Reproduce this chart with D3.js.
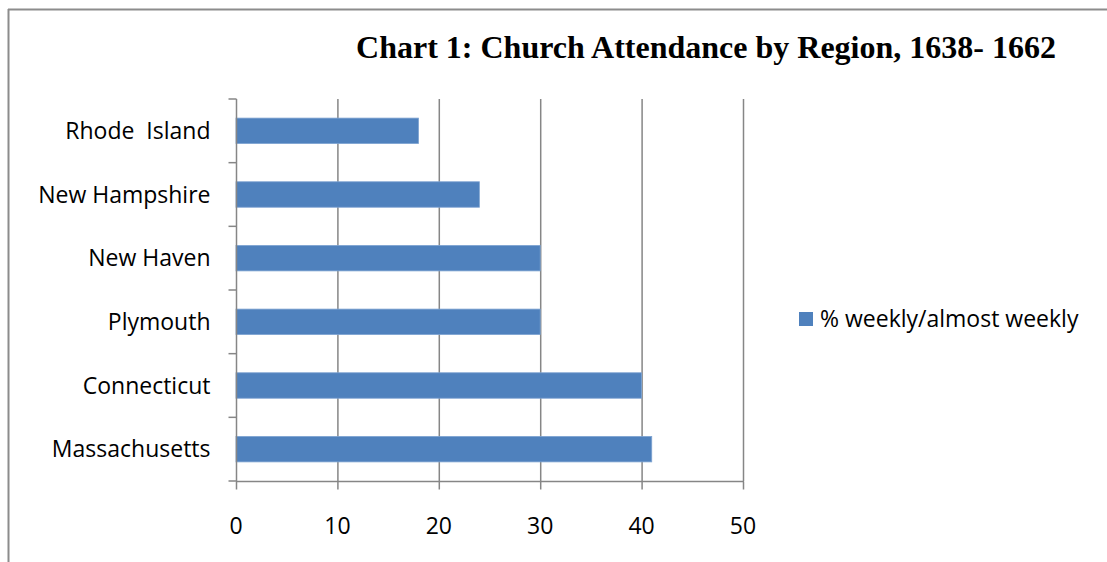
<!DOCTYPE html>
<html>
<head>
<meta charset="utf-8">
<script src="https://cdn.jsdelivr.net/npm/d3@7"></script>
<style>
  body { margin: 0; background: #fff; }
  svg { display: block; }
  .lbl { font-family: "Open Sans", sans-serif; font-size: 23px; fill: #000; white-space: pre; }
</style>
</head>
<body>
<svg id="chart" width="1107" height="562"></svg>
<script>
var width = 1107,
    height = 562;

// data
var regions = ['Massachusetts', 'Connecticut', 'Plymouth', 'New Haven', 'New Hampshire', 'Rhode  Island'];
var values = [41, 40, 30, 30, 24, 18];
var xTicks = [0, 10, 20, 30, 40, 50];
var seriesName = '% weekly/almost weekly';
var title = 'Chart 1: Church Attendance by Region, 1638- 1662';

var rows = regions.map(function(r, i) { return {region: r, value: values[i]}; });

var svg = d3.select('#chart');
var gridColor = '#868686';

// frame around the chart (top and left edges visible)
svg.append('line').attr('x1', 8).attr('y1', 9.5).attr('x2', width).attr('y2', 9.5)
    .attr('stroke', '#8c8c8c').attr('stroke-width', 2);
svg.append('line').attr('x1', 8.5).attr('y1', 9).attr('x2', 8.5).attr('y2', height)
    .attr('stroke', '#8c8c8c').attr('stroke-width', 2);

var plot = {left: 236, right: 743, top: 99, bottom: 481};

var x = d3.scaleLinear().domain([0, 50]).range([plot.left, plot.right]);
var y = d3.scaleBand()
    .domain(regions.slice().reverse())
    .range([plot.top, plot.bottom])
    .paddingInner(0.6).paddingOuter(0.3);

// vertical gridlines
svg.append('g').selectAll('line')
    .data(xTicks.slice(1))
    .enter().append('line')
    .attr('x1', d => x(d) + 0.5).attr('x2', d => x(d) + 0.5)
    .attr('y1', plot.top).attr('y2', plot.bottom)
    .attr('stroke', gridColor).attr('stroke-width', 1.5);

// bars
svg.append('g').selectAll('rect')
    .data(rows)
    .enter().append('rect')
    .attr('x', x(0))
    .attr('y', d => y(d.region))
    .attr('width', d => x(d.value) - x(0))
    .attr('height', y.bandwidth())
    .attr('fill', '#4f81bd')
    .attr('stroke', '#7ea3d1').attr('stroke-width', 0.8);

// category axis
var yAxis = svg.append('g')
    .attr('transform', 'translate(' + (plot.left + 0.5) + ',0)');
yAxis.append('line').attr('x1', 0).attr('x2', 0).attr('y1', plot.top).attr('y2', plot.bottom)
    .attr('stroke', gridColor).attr('stroke-width', 1.5);
var bandEdges = d3.range(regions.length + 1).map(function(i) {
  return plot.top + i * (plot.bottom - plot.top) / regions.length;
});
yAxis.selectAll('line.tk')
    .data(bandEdges)
    .enter().append('line').attr('class', 'tk')
    .attr('x1', -8).attr('x2', 0)
    .attr('y1', d => d).attr('y2', d => d)
    .attr('stroke', gridColor).attr('stroke-width', 1.5);
yAxis.selectAll('text')
    .data(regions)
    .enter().append('text')
    .attr('class', 'lbl')
    .attr('x', -26)
    .attr('y', d => y(d) + y.bandwidth() / 2)
    .attr('dy', '0.35em')
    .attr('text-anchor', 'end')
    .text(d => d);

// value axis
var xAxis = svg.append('g')
    .attr('transform', 'translate(0,' + (plot.bottom + 0.5) + ')');
xAxis.append('line').attr('x1', plot.left).attr('x2', plot.right + 1).attr('y1', 0).attr('y2', 0)
    .attr('stroke', gridColor).attr('stroke-width', 1.5);
xAxis.selectAll('line.tk')
    .data(xTicks)
    .enter().append('line').attr('class', 'tk')
    .attr('x1', d => x(d) + 0.5).attr('x2', d => x(d) + 0.5)
    .attr('y1', 0).attr('y2', 8)
    .attr('stroke', gridColor).attr('stroke-width', 1.5);
xAxis.selectAll('text')
    .data(xTicks)
    .enter().append('text')
    .attr('class', 'lbl')
    .attr('x', d => x(d))
    .attr('y', 44)
    .attr('dy', '0.35em')
    .attr('text-anchor', 'middle')
    .text(d => d);

// title
svg.append('text')
    .attr('x', 706).attr('y', 58)
    .attr('text-anchor', 'middle')
    .style('font-family', '"Liberation Serif", "Times New Roman", serif')
    .style('font-weight', 'bold')
    .style('font-size', '32px')
    .text(title);

// legend
var legend = svg.append('g').attr('transform', 'translate(799,312)');
legend.append('rect').attr('width', 14).attr('height', 14).attr('fill', '#4f81bd');
legend.append('text').attr('class', 'lbl')
    .attr('x', 21).attr('y', 7).attr('dy', '0.35em')
    .text(seriesName);
</script>
</body>
</html>
